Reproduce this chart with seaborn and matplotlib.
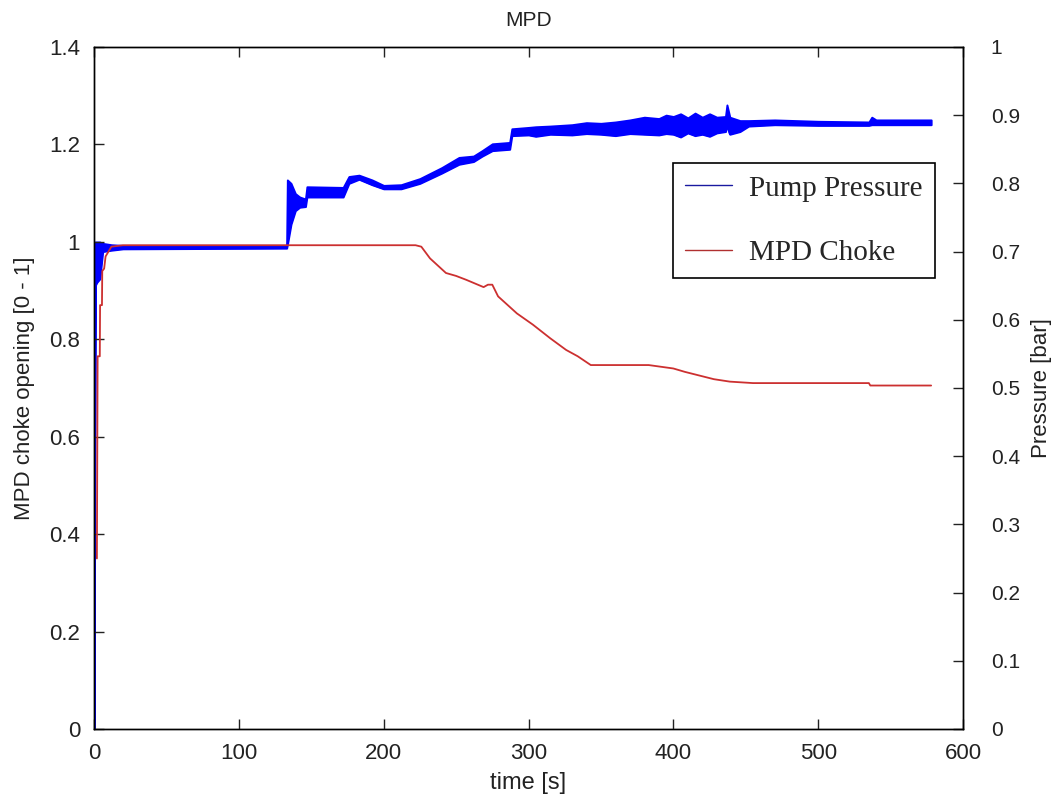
import numpy as np
import pandas as pd
import matplotlib
matplotlib.use("Agg")
import matplotlib.pyplot as plt
from matplotlib.lines import Line2D
import seaborn as sns

# MPD choke opening (fraction, left axis)
choke_t = [2.0, 2.5, 4.0, 4.2, 5.5, 5.7, 7.0, 8.0, 10.0, 12.0, 20.0, 222.0, 226.0,
           232.0, 243.0, 250.0, 257.0, 269.0, 272.0, 275.0, 279.0, 292.0, 303.0,
           315.0, 326.0, 334.0, 343.0, 383.0, 400.0, 408.0, 416.0, 428.0, 439.0,
           455.0, 535.0, 536.0, 578.0]
choke_val = [0.35, 0.765, 0.765, 0.87, 0.87, 0.94, 0.945, 0.97, 0.98, 0.99, 0.993,
             0.993, 0.99, 0.966, 0.936, 0.93, 0.922, 0.907, 0.912, 0.912, 0.888,
             0.853, 0.830, 0.802, 0.778, 0.765, 0.747, 0.747, 0.740, 0.733, 0.727,
             0.718, 0.713, 0.710, 0.710, 0.705, 0.705]

# Pump pressure (bar, right axis): lower / upper envelope of the oscillating signal
pump_t = [0.0, 0.8, 2.0, 4.0, 6.0, 12.0, 20.0, 133.0, 133.5, 136.0, 139.0, 142.0,
          146.0, 147.0, 172.0, 176.0, 183.0, 192.0, 200.0, 212.0, 225.0, 240.0,
          252.0, 262.0, 268.0, 275.0, 287.0, 288.5, 300.0, 305.0, 315.0, 330.0,
          340.0, 350.0, 360.0, 370.0, 380.0, 390.0, 395.0, 400.0, 405.0, 410.0,
          415.0, 420.0, 425.0, 430.0, 436.0, 437.0, 439.0, 446.0, 452.0, 470.0,
          500.0, 535.0, 537.0, 540.0, 578.0]
pump_lo = [0.0, 0.65, 0.655, 0.66, 0.700, 0.702, 0.704, 0.705, 0.71, 0.74, 0.76,
           0.765, 0.766, 0.780, 0.780, 0.800, 0.806, 0.798, 0.792, 0.792, 0.800,
           0.815, 0.828, 0.832, 0.840, 0.848, 0.850, 0.870, 0.871, 0.869, 0.872,
           0.871, 0.873, 0.872, 0.870, 0.873, 0.872, 0.871, 0.873, 0.872, 0.868,
           0.874, 0.870, 0.872, 0.869, 0.874, 0.876, 0.885, 0.872, 0.876, 0.884,
           0.886, 0.885, 0.885, 0.886, 0.886, 0.886]
pump_hi = [0.0, 0.714, 0.714, 0.714, 0.712, 0.710, 0.709, 0.709, 0.805, 0.80, 0.785,
           0.780, 0.777, 0.795, 0.794, 0.810, 0.812, 0.805, 0.797, 0.798, 0.807,
           0.823, 0.838, 0.840, 0.848, 0.858, 0.860, 0.880, 0.882, 0.883, 0.884,
           0.886, 0.889, 0.888, 0.890, 0.893, 0.897, 0.895, 0.900, 0.898, 0.902,
           0.896, 0.903, 0.897, 0.902, 0.897, 0.898, 0.915, 0.897, 0.892, 0.892,
           0.893, 0.891, 0.890, 0.897, 0.893, 0.893]

x_ticks = [0, 100, 200, 300, 400, 500, 600]
left_ticks = [0, 0.2, 0.4, 0.6, 0.8, 1.0, 1.2, 1.4]
left_labels = ["0", "0.2", "0.4", "0.6", "0.8", "1", "1.2", "1.4"]
right_ticks = [0, 0.1, 0.2, 0.3, 0.4, 0.5, 0.6, 0.7, 0.8, 0.9, 1.0]
right_labels = ["0", "0.1", "0.2", "0.3", "0.4", "0.5", "0.6", "0.7", "0.8", "0.9", "1"]

sns.set_style("white")
plt.rcParams["font.family"] = ["Liberation Sans", "DejaVu Sans"]

BLUE = "#0000ff"
RED = "#cc3030"
TEXT = "#222222"

fig = plt.figure(figsize=(10.55, 8.0), dpi=100)
ax = fig.add_axes([0.0891, 0.0888, 0.8237, 0.8525])
ax2 = ax.twinx()

choke_df = pd.DataFrame({"time": choke_t, "opening": choke_val})
pump_df = pd.DataFrame({"time": pump_t, "lo": pump_lo, "hi": pump_hi})

# Pump pressure band on the pressure axis
ax2.fill_between(pump_df["time"], pump_df["lo"], pump_df["hi"], color=BLUE,
                 linewidth=1.4, edgecolor=BLUE, zorder=2)
sns.lineplot(data=pump_df, x="time", y="lo", ax=ax2, color=BLUE, linewidth=1.2,
             estimator=None, sort=False, zorder=2)

# Choke opening on the left axis, drawn above the pressure band
ax.set_zorder(ax2.get_zorder() + 1)
ax.patch.set_visible(False)
sns.lineplot(data=choke_df, x="time", y="opening", ax=ax, color=RED, linewidth=1.3,
             estimator=None, sort=False)

ax.set_xlim(0, 600)
ax.set_ylim(0, 1.4)
ax2.set_ylim(0, 1.0)
ax.set_xticks(x_ticks)
ax.set_xticklabels([str(v) for v in x_ticks])
ax.set_yticks(left_ticks)
ax.set_yticklabels(left_labels)
ax2.set_yticks(right_ticks)
ax2.set_yticklabels(right_labels)

for a in (ax, ax2):
    for s in a.spines.values():
        s.set_visible(True)
        s.set_color("black")
        s.set_linewidth(1.0)

ax.tick_params(axis="x", direction="in", length=7, width=1, top=True, bottom=True,
               labelsize=16, pad=10, colors=TEXT)
ax.tick_params(axis="y", direction="in", length=7, width=1, left=True, right=False,
               labelsize=16, pad=10, colors=TEXT)
ax2.tick_params(axis="y", direction="in", length=7, width=1, right=True, left=False,
                labelsize=15, pad=20, colors=TEXT)

ax.set_xlabel("time [s]", fontsize=17, labelpad=6, color=TEXT)
ax.set_ylabel("MPD choke opening [0 - 1]", fontsize=16, labelpad=10, color=TEXT)
ax2.set_ylabel("Pressure [bar]", fontsize=16, labelpad=8, color=TEXT)
ax.set_title("MPD", fontsize=15, pad=15, color=TEXT)

handles = [Line2D([], [], color="#1a1aa0", linewidth=1.0),
           Line2D([], [], color="#b03030", linewidth=1.0)]
leg = ax.legend(handles, ["Pump Pressure", "MPD Choke"], loc="upper right",
                bbox_to_anchor=(0.968, 0.830), borderaxespad=0, fancybox=False,
                framealpha=1, edgecolor="black", labelspacing=1.3, handlelength=1.6,
                borderpad=0.42, handletextpad=0.6,
                prop={"family": ["Liberation Serif", "DejaVu Serif"], "size": 21})
leg.get_frame().set_linewidth(1.2)

fig.savefig("out.png", dpi=100)
